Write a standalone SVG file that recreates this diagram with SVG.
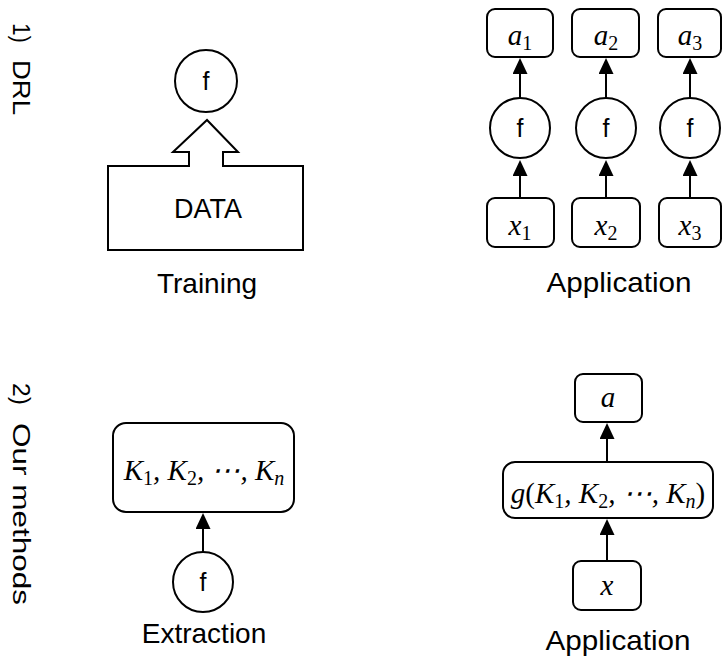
<svg xmlns="http://www.w3.org/2000/svg" width="724" height="660" viewBox="0 0 724 660">
<defs>
<style>
.bg{fill:#ffffff}
.shape{fill:#ffffff;stroke:#000000;stroke-width:2}
.conn{stroke:#000000;stroke-width:2;fill:none;marker-end:url(#ah)}
.lbl{font-family:"Liberation Sans",Arial,sans-serif;font-size:28px;fill:#000000;text-anchor:middle}
.side{font-family:"Liberation Sans",Arial,sans-serif;font-size:23px;fill:#000000}
.fn{font-family:"Liberation Sans",Arial,sans-serif;font-size:25px;fill:#000000;text-anchor:middle}
.math{font-family:"Liberation Serif","Times New Roman",serif;font-size:29px;font-style:italic;fill:#000000;text-anchor:middle}
.sub{font-style:normal;font-size:20px}
.subi{font-style:italic;font-size:20px}
</style>
<marker id="ah" markerWidth="16" markerHeight="15" refX="8" refY="7.5" orient="auto" markerUnits="userSpaceOnUse">
<path d="M0,0 L16,7.5 L0,15 z" fill="#000000"/>
</marker>
</defs>
<rect class="bg" x="0" y="0" width="724" height="660"/>

<g id="section-labels">
<text class="side" transform="rotate(90)" x="23" y="-13" textLength="20" lengthAdjust="spacingAndGlyphs">1)</text>
<text class="side" transform="rotate(90)" x="60" y="-13" textLength="55" lengthAdjust="spacingAndGlyphs">DRL</text>
<text class="side" transform="rotate(90)" x="383" y="-13" textLength="22" lengthAdjust="spacingAndGlyphs">2)</text>
<text class="side" transform="rotate(90)" x="423" y="-13" textLength="182" lengthAdjust="spacingAndGlyphs">Our methods</text>
</g>

<g id="train-f">
<circle class="shape" cx="206" cy="81" r="31"/>
<text class="fn" x="206" y="90">f</text>
</g>
<g id="data">
<path class="shape" d="M108,166 L189,166 L189,152 L173,152 L207,120 L238,152 L223,152 L223,166 L303,166 L303,250 L108,250 Z"/>
<text class="lbl" x="208" y="218" style="font-size:27px">DATA</text>
</g>
<g id="label-training"><text class="lbl" x="207" y="293">Training</text></g>

<g id="a1"><rect class="shape" x="487" y="9" width="66" height="48" rx="8"/>
<text class="math" x="520" y="45">a<tspan class="sub" dy="5">1</tspan></text></g>
<g id="a2"><rect class="shape" x="572" y="9" width="67" height="48" rx="8"/>
<text class="math" x="606" y="45">a<tspan class="sub" dy="5">2</tspan></text></g>
<g id="a3"><rect class="shape" x="658" y="9" width="63" height="48" rx="8"/>
<text class="math" x="690" y="45">a<tspan class="sub" dy="5">3</tspan></text></g>

<g id="f1"><circle class="shape" cx="520" cy="128" r="30"/><text class="fn" x="520" y="137">f</text></g>
<g id="f2"><circle class="shape" cx="606" cy="128" r="30"/><text class="fn" x="606" y="137">f</text></g>
<g id="f3"><circle class="shape" cx="690" cy="128" r="30"/><text class="fn" x="690" y="137">f</text></g>

<g id="x1"><rect class="shape" x="487" y="198" width="67" height="49" rx="8"/>
<text class="math" x="520" y="235">x<tspan class="sub" dy="5">1</tspan></text></g>
<g id="x2"><rect class="shape" x="572" y="198" width="68" height="49" rx="8"/>
<text class="math" x="606" y="235">x<tspan class="sub" dy="5">2</tspan></text></g>
<g id="x3"><rect class="shape" x="659" y="198" width="62" height="49" rx="8"/>
<text class="math" x="690" y="235">x<tspan class="sub" dy="5">3</tspan></text></g>
<g id="label-application-1"><text class="lbl" x="619" y="292" textLength="145" lengthAdjust="spacingAndGlyphs">Application</text></g>

<g id="kset"><rect class="shape" x="113" y="423" width="181" height="89" rx="13"/>
<text class="math" x="204" y="480">K<tspan class="sub" dy="5">1</tspan><tspan dy="-5">, K</tspan><tspan class="sub" dy="5">2</tspan><tspan dy="-5">, ⋯, K</tspan><tspan class="subi" dy="5">n</tspan></text></g>
<g id="extract-f"><circle class="shape" cx="203" cy="582" r="30"/><text class="fn" x="203" y="591">f</text></g>
<g id="label-extraction"><text class="lbl" x="204" y="643">Extraction</text></g>

<g id="a"><rect class="shape" x="575" y="374" width="67" height="48" rx="8"/>
<text class="math" x="608" y="407">a</text></g>
<g id="g"><rect class="shape" x="503" y="462" width="210" height="56" rx="12"/>
<text class="math" x="608" y="503">g<tspan style="font-style:normal">(</tspan>K<tspan class="sub" dy="5">1</tspan><tspan dy="-5">, K</tspan><tspan class="sub" dy="5">2</tspan><tspan dy="-5">, ⋯, K</tspan><tspan class="subi" dy="5">n</tspan><tspan dy="-5" style="font-style:normal">)</tspan></text></g>
<g id="x"><rect class="shape" x="573" y="561" width="68" height="49" rx="8"/>
<text class="math" x="607" y="595">x</text></g>
<g id="label-application-2"><text class="lbl" x="618" y="650" textLength="145" lengthAdjust="spacingAndGlyphs">Application</text></g>

<g id="connectors">
<line class="conn" x1="520" y1="98" x2="520" y2="66"/>
<line class="conn" x1="606" y1="98" x2="606" y2="66"/>
<line class="conn" x1="690" y1="98" x2="690" y2="66"/>
<line class="conn" x1="520" y1="198" x2="520" y2="168"/>
<line class="conn" x1="606" y1="198" x2="606" y2="168"/>
<line class="conn" x1="690" y1="198" x2="690" y2="168"/>
<line class="conn" x1="203" y1="552" x2="203" y2="521"/>
<line class="conn" x1="607" y1="462" x2="607" y2="431"/>
<line class="conn" x1="607" y1="561" x2="607" y2="527"/>
</g>
</svg>
